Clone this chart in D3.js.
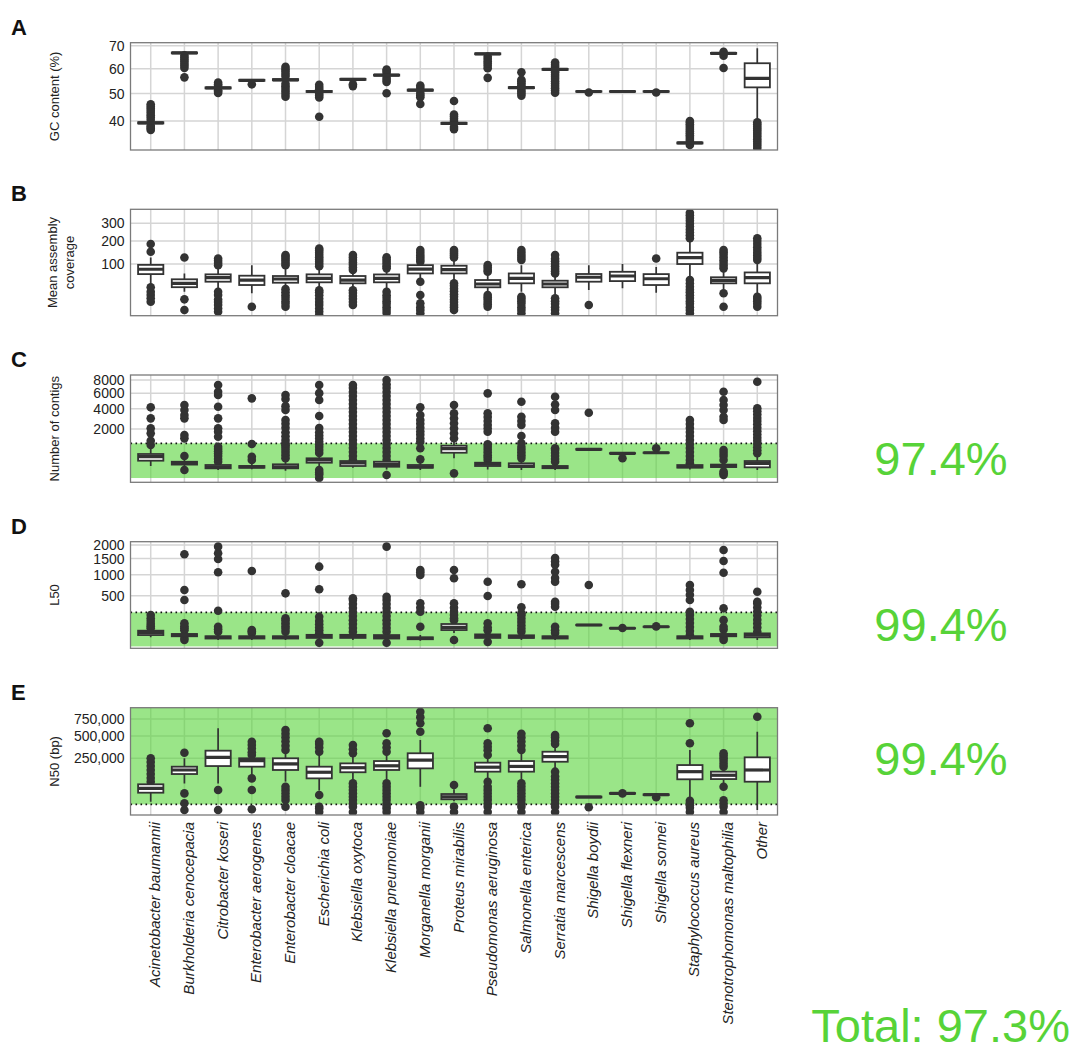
<!DOCTYPE html>
<html><head><meta charset="utf-8">
<script src="https://cdn.jsdelivr.net/npm/d3@7"></script>
<style>body{margin:0;background:#fff}svg{display:block}</style>
</head><body>
<script>
const categories = ["Acinetobacter baumannii","Burkholderia cenocepacia","Citrobacter koseri","Enterobacter aerogenes","Enterobacter cloacae","Escherichia coli","Klebsiella oxytoca","Klebsiella pneumoniae","Morganella morganii","Proteus mirabilis","Pseudomonas aeruginosa","Salmonella enterica","Serratia marcescens","Shigella boydii","Shigella flexneri","Shigella sonnei","Staphylococcus aureus","Stenotrophomonas maltophilia","Other"];

// [lower whisker, Q1, median, Q3, upper whisker]
const gcBoxes = [
 [38.8,39.2,39.4,39.6,40.0],[66.3,66.6,66.8,67.0,67.3],[51.8,52.0,52.2,52.4,52.6],[54.8,55.0,55.2,55.4,55.6],
 [54.9,55.2,55.4,55.7,56.0],[50.3,50.6,50.8,51.0,51.3],[55.2,55.4,55.6,55.8,56.0],[56.9,57.1,57.3,57.5,57.7],
 [50.9,51.1,51.3,51.5,51.7],[38.8,39.0,39.2,39.4,39.6],[66.0,66.2,66.4,66.6,66.8],[51.9,52.1,52.3,52.5,52.7],
 [59.3,59.5,59.7,59.9,60.1],[50.6,50.7,50.8,50.9,51.0],[50.6,50.7,50.8,50.9,51.0],[50.6,50.7,50.8,50.9,51.0],
 [32.6,32.7,32.9,33.0,33.2],[66.2,66.4,66.6,66.8,67.0],[40.4,52.4,56.0,62.3,68.9]];
const gcOutliers = [
 [37.0,37.5,38.0,38.4,40.4,41.2,42.0,42.8,43.6,44.4,45.2,46.0],
 [56.4,60.3,61.2,62.1,63.0,63.9,64.8,65.7],
 [50.2,50.8,51.3,53.0,53.6,54.3],
 [53.6],
 [48.8,49.8,50.8,51.8,52.8,53.8,56.8,57.8,58.8,59.8,60.8],
 [41.5,48.5,49.3,50.0,51.7,52.5,53.4],
 [52.9,53.6],
 [50.1,54.5,55.3,56.2,58.2,59.0,59.6],
 [46.1,48.6,49.4,50.2,52.2,53.1],
 [37.3,38.0,40.0,40.8,41.6,42.3,47.2],
 [56.2,60.2,61.2,62.2,63.2,64.2,65.2],
 [49.2,50.0,50.8,51.5,53.2,54.0,54.8,55.4,58.5],
 [50.3,51.2,52.1,53.0,53.9,54.8,55.7,56.6,57.5,58.4,59.0,60.8,61.7,62.6],
 [50.4],[],[50.4],
 [32.2,33.5,34.1,34.7,35.3,35.9,36.5,37.1,37.7,38.3,38.9,39.5,40.0],
 [60.3,65.6,67.3],
 [31.2,31.9,32.6,33.3,34.0,34.7,35.4,36.1,36.8,37.5,38.2,38.9,39.6]];

const covBoxes = [
 [40,67,82,97,125],[25,34,42.6,52.6,69],[31.7,46.5,56.8,66.3,90],[22.4,38.7,50.7,62.4,96],
 [31.7,44,53.3,61.5,90],[31.7,45,55,66.3,85],[32,42.6,50.7,61.5,75],[30,45,55,66,80],
 [50.7,69,82.8,96,105],[45,69,81,94,115],[22.4,33.8,41,50.7,69],[25,42.6,55,69,96],
 [20,33.8,41,49,65],[28.4,46.5,58,67.3,96],[31.7,48,61.5,74,100],[23.4,38.7,54,67,90],
 [60,100,124,145,205],[30,42.6,50,58,79.6],[19.6,42.6,57,72,102]];
const covOutliers = [
 [10.4,14.7,19.6,25.2,33.7,149,185],
 [3,13.3,125],
 [2,4,7,10,13,19.6,25,96,104,112,121],
 [5.4],
 [5.4,8,11,15,19,24,30,96,104,112,120,128,135],
 [0.7,2,4,7,10,14,19,24,28,92,100,108,117,126,135,145,155,164],
 [6.9,10,14,18,23,28,80,88,97,106,115,125,135],
 [1.4,3,5,8,11,15,19,25,85,92,100,108,117,126],
 [1.3,3,5,8.6,19.6,46.5,108,116,125,134,145,157],
 [3,5,7,10,13,17,21,26,31,37,42.6,125,133,141,149,157],
 [5.4,7.5,10,13,16,19.6,74,80,88,96],
 [1.3,3,5,8,11,14,17,115,124,134,145,157],
 [1.3,3,5,8,11,14.7,69,76,84,92,101,110,120,135],
 [6.9],[],[121],
 [1.3,3,5,8,11,15,19,24,29,35,42,50.7,214,230,246,262,280,298,316,334,352,370],
 [5.4,22.4,85,94,104,114,125,136,147,157],
 [5.4,8,11,14,17,115,124,134,145,157,170,185,200,214]];

const contigBoxes = [
 [120,250,380,480,800],[70,150,180,220,330],[53,78,100,141,200],[63,88,105,120,200],
 [44,78,105,156,250],[106,195,270,323,500],[88,120,190,240,250],[60,106,156,221,250],
 [53,88,105,141,220],[323,532,715,870,1202],[60,120,160,195,230],[53,100,120,180,300],
 [53,80,95,120,200],[650,670,685,700,720],[490,500,508,515,525],[515,525,532,540,550],
 [60,90,106,140,170],[53,100,120,150,220],[53,95,180,240,450]];
const contigOutliers = [
 [907,1158,1660,2054,2965,4160],
 [53,403,1310,1540,2965,3300,3850,4436],
 [221,300,400,500,600,700,816,1420,1785,2054,2965,4232,5735,6200,7200],
 [270,378,962,5285],
 [323,420,530,650,780,900,1000,1200,1450,1750,2100,2450,2800,3850,4300,5200,5735],
 [0,10,25,53,520,650,800,950,1100,1300,1500,1750,2080,3200,5065,6000,7200],
 [270,403,563,749,962,1202,1468,1761,2081,2428,2800,3200,3626,4079,4559,5065,5598,6158,6743,7200],
 [7.5,270,403,563,749,962,1202,1468,1761,2081,2428,2800,3200,3626,4079,4559,5065,5598,6158,6743,7300,7995],
 [290,734,1100,1300,1550,1800,2100,2450,2800,3300,4160],
 [18,1312,1660,2054,2490,2965,3480,4436],
 [270,350,430,540,660,800,950,1785,2040,2340,2700,3100,3480,5970],
 [330,430,540,660,800,1000,1470,2340,2700,3126,4850],
 [221,300,400,520,650,734,1785,2100,2490,3850,4500,5500],
 [3550],[323],[734],
 [180,270,403,563,749,962,1202,1468,1761,2081,2428,2800],
 [8,18,35,270,400,520,650,2800,3126,3850,4436,5065,6200],
 [508,640,790,960,1150,1350,1580,1830,2100,2400,2700,3000,3350,3700,4040,7720]];

const l50Boxes = [
 [16,25,36.5,48,60],[10,20,25,30,40],[8,12,16,20,30],[8,12,16,20,28],
 [8,12,16,20,30],[8,14,21,26,30],[8,14,21,26,35],[6,12,18,25,35],
 [6,10,12.8,16,25],[35,52,71,97.6,125],[8,14,21,28,40],[8,14,18,24,35],
 [8,12,16,20,30],[85,87,89,91,93],[62,63,64,65,66],[73,74,75,76,77],
 [8,12,16,20,22],[12,20,25,30,45],[8,16,25,33,40]];
const l50Outliers = [
 [64,80,100,125,155,192],
 [8,14,50,65,80,104,419,619,1652],
 [42,58,75,248,1070,1487,1690,1937],
 [35,45,52,1107],
 [42,60,80,104,130,154,548],
 [2.7,33,50,70,95,125,172,634,1237],
 [42,66,98,134,180,230,287,350,419,450],
 [2.7,42,66,98,134,180,230,287,350,419,480,1937],
 [75,234,290,361,992,1070,1135],
 [8,134,155,192,234,290,361,902,1135],
 [4,50,70,104,494,815],
 [42,60,85,115,150,190,213,297,750],
 [35,50,75,306,350,388,815,910,1085,1300,1400,1520],
 [734],[66],[78],
 [25,46,73,107,146,192,234,419,520,620,734],
 [8,14,55,75,134,282,1057,1418,1808],
 [42,70,102,137,186,237,294,358,388,582]];

const n50Boxes = [
 [9200,32300,48700,66500,75000],[71000,125000,153000,178000,250000],[71000,183000,259000,326000,607000],[120000,178000,228000,250000,270000],
 [80000,153000,200000,250000,310000],[40000,98000,137000,178000,300000],[90000,137000,170000,205000,280000],[90000,153000,185000,225000,300000],
 [55000,165000,234000,299000,450000],[10000,14000,20000,28000,45000],[80000,141000,174000,211000,280000],[80000,141000,180000,225000,300000],
 [150000,219000,265000,315000,360000],[17000,18500,19500,20500,22000],[28000,29000,30000,31000,32000],[24000,25000,26000,27000,28000],
 [16000,92700,141000,191000,333000],[60000,94000,117000,141000,170000],[350,79600,153000,259000,559000]];
const n50Outliers = [
 [79600,100000,125000,153000,183000,217000,250000],
 [350,6600,30000,305000],
 [350,42000],
 [630,42000,98000,282000,310000,350000,390000,428000],
 [2400,12500,20000,30000,42000,55000,333000,380000,430000,480000,530000,583000],
 [0,1000,2400,25000,315000,360000,400000,428000],
 [0,2400,6000,12500,20000,30000,42000,55000,71000,299000,340000,389000],
 [0,1000,3000,6000,12500,20000,30000,42000,55000,71000,315000,360000,409000,537000],
 [0,1500,4000,559000,682000,780000,872000],
 [0,2400,63000],
 [0,2400,6000,12500,20000,30000,42000,55000,79000,282000,330000,370000,409000,607000],
 [0,2400,6000,12500,20000,30000,42000,55000,71000,333000,380000,430000,480000,530000],
 [0,2400,6000,12500,20000,30000,42000,55000,71000,90000,110000,141000,400000,440000,480000,514000],
 [1900],[30000],[18700],
 [0,1500,4000,7000,11000,409000,682000],
 [0,2400,6000,12000,55000,178000,200000,225000,250000,275000,299000],
 [787000]];

const gcTicks = [40,50,60,70];
const covTicks = [100,200,300];
const contigTicks = [2000,4000,6000,8000];
const l50Ticks = [500,1000,1500,2000];
const n50Ticks = [250000,500000,750000];

const panelLetters = ["A","B","C","D","E"];
const yTitles = [["GC content (%)"],["Mean assembly","coverage"],["Number of contigs"],["L50"],["N50 (bp)"]];
const passThresholds = [null,null,1000,225,5000];
const passRates = [null,null,"97.4%","99.4%","99.4%"];
const totalRate = "Total: 97.3%";

const W = 1074, H = 1052;
const green = "#57d338";
const panels = [
 {boxes:gcBoxes, out:gcOutliers, ticks:gcTicks, fmt:d3.format("d"), domain:[30.7,71.4], top:42.7, bottom:150, pass:null},
 {boxes:covBoxes, out:covOutliers, ticks:covTicks, fmt:d3.format("d"), domain:[0.49,394], top:209.3, bottom:315.7, pass:null},
 {boxes:contigBoxes, out:contigOutliers, ticks:contigTicks, fmt:d3.format("d"), domain:[-15.3,8836], top:375, bottom:482.3, pass:[0,passThresholds[2]], thr:passThresholds[2], rateY:475},
 {boxes:l50Boxes, out:l50Outliers, ticks:l50Ticks, fmt:d3.format("d"), domain:[-0.7,2133], top:541.7, bottom:648.3, pass:[0,passThresholds[3]], thr:passThresholds[3], rateY:641},
 {boxes:n50Boxes, out:n50Outliers, ticks:n50Ticks, fmt:d3.format(","), domain:[-780,943000], top:707.7, bottom:815, pass:[passThresholds[4],943000], thr:passThresholds[4], rateY:775}
];

const svg = d3.select("body").append("svg").attr("width",W).attr("height",H)
  .style("font-family","'Liberation Sans', Arial, sans-serif");
svg.append("rect").attr("width",W).attr("height",H).attr("fill","#fff");

const x = d3.scalePoint().domain(categories).range([130.5,777.5]).padding(0.6);
const bw = x.step()*0.75;
const X0 = 130.5, X1 = 777.5;
const dark = "#333333";

panels.forEach((p,i)=>{
  const y = d3.scaleSqrt().domain(p.domain).range([p.bottom,p.top]);
  const g = svg.append("g");
  const cid = "clip"+i;
  svg.append("clipPath").attr("id",cid).append("rect")
    .attr("x",X0).attr("y",p.top).attr("width",X1-X0).attr("height",p.bottom-p.top);
  const inner = g.append("g").attr("clip-path",`url(#${cid})`);
  inner.selectAll(".vg").data(categories).join("line")
    .attr("x1",d=>x(d)).attr("x2",d=>x(d)).attr("y1",p.top).attr("y2",p.bottom)
    .attr("stroke","#d5d5d5").attr("stroke-width",1.5);
  inner.selectAll(".hg").data(p.ticks).join("line")
    .attr("x1",X0).attr("x2",X1).attr("y1",d=>y(d)).attr("y2",d=>y(d))
    .attr("stroke","#d5d5d5").attr("stroke-width",1.5);
  if(p.pass){
    inner.append("rect").attr("x",X0).attr("width",X1-X0)
      .attr("y",y(p.pass[1])).attr("height",y(p.pass[0])-y(p.pass[1]))
      .attr("fill",green).attr("fill-opacity",0.6);
    inner.append("line").attr("x1",X0).attr("x2",X1).attr("y1",y(p.thr)).attr("y2",y(p.thr))
      .attr("stroke","#111").attr("stroke-width",1.6).attr("stroke-dasharray","1.6,3.4");
  }
  categories.forEach((c,j)=>{
    const cx = x(c), b = p.boxes[j];
    const bg = inner.append("g");
    bg.selectAll("circle").data(p.out[j]).join("circle")
      .attr("cx",cx).attr("cy",d=>y(d)).attr("r",4.3).attr("fill",dark);
    bg.append("line").attr("x1",cx).attr("x2",cx).attr("y1",y(b[0])).attr("y2",y(b[1]))
      .attr("stroke",dark).attr("stroke-width",1.7);
    bg.append("line").attr("x1",cx).attr("x2",cx).attr("y1",y(b[3])).attr("y2",y(b[4]))
      .attr("stroke",dark).attr("stroke-width",1.7);
    bg.append("rect").attr("x",cx-bw/2).attr("width",bw)
      .attr("y",y(b[3])).attr("height",Math.max(0,y(b[1])-y(b[3])))
      .attr("fill","#fff").attr("stroke",dark).attr("stroke-width",1.8);
    bg.append("line").attr("x1",cx-bw/2).attr("x2",cx+bw/2).attr("y1",y(b[2])).attr("y2",y(b[2]))
      .attr("stroke",dark).attr("stroke-width",3.2);
  });
  g.append("rect").attr("x",X0).attr("y",p.top).attr("width",X1-X0).attr("height",p.bottom-p.top)
    .attr("fill","none").attr("stroke","#7a7a7a").attr("stroke-width",1.3);
  const ax = g.append("g").attr("transform",`translate(${X0},0)`)
    .call(d3.axisLeft(y).tickValues(p.ticks).tickFormat(p.fmt).tickSize(0).tickPadding(6));
  ax.select(".domain").remove();
  ax.selectAll("text").attr("font-size",14).attr("fill","#222")
    .style("font-family","'Liberation Sans', Arial, sans-serif");
  g.append("text").attr("x",11).attr("y",p.top-8).text(panelLetters[i])
    .attr("font-size",22).attr("font-weight","bold").attr("fill","#111");
  const cy = (p.top+p.bottom)/2;
  const lines = yTitles[i];
  lines.forEach((t,k)=>{
    const bx = lines.length===1 ? 59 : (k===0 ? 57 : 74);
    g.append("text").attr("transform",`translate(${bx},${cy}) rotate(-90)`)
      .attr("text-anchor","middle").attr("font-size",13).attr("fill","#222").text(t);
  });
  if(passRates[i]){
    svg.append("text").attr("x",941).attr("y",p.rateY).attr("text-anchor","middle")
      .attr("font-size",47).attr("fill",green).text(passRates[i]);
  }
});

const last = panels[panels.length-1];
const xa = svg.append("g").attr("transform",`translate(0,${last.bottom})`)
  .call(d3.axisBottom(x).tickSize(0));
xa.select(".domain").remove();
xa.selectAll("text")
  .attr("transform","rotate(-90)").attr("text-anchor","end")
  .attr("x",-7).attr("y",0).attr("dy","0.6em")
  .attr("font-size",15).attr("font-style","italic").attr("fill","#222")
  .style("font-family","'Liberation Sans', Arial, sans-serif");

svg.append("text").attr("x",1070).attr("y",1042).attr("text-anchor","end")
  .attr("font-size",47).attr("fill",green).text(totalRate);
</script>
</body></html>
